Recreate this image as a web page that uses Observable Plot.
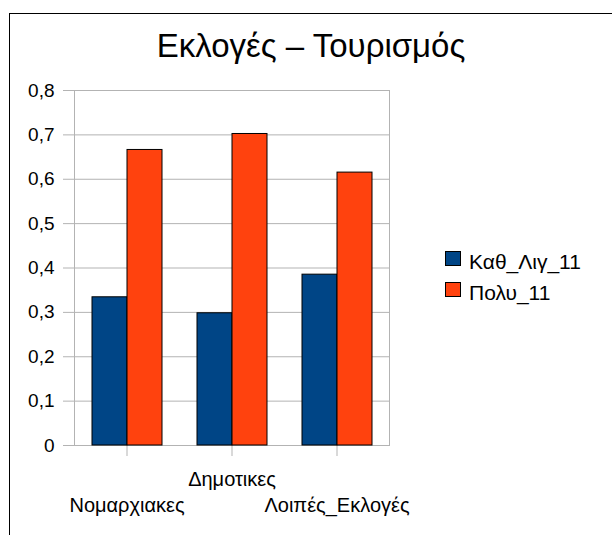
<!DOCTYPE html>
<html>
<head>
<meta charset="utf-8">
<script src="https://cdn.jsdelivr.net/npm/d3@7"></script>
<script src="https://cdn.jsdelivr.net/npm/@observablehq/plot@0.6"></script>
<style>
  html, body { margin: 0; padding: 0; background: #fff; }
  #wrap { position: relative; width: 612px; height: 535px; overflow: hidden; font-family: "Liberation Sans", Arial, sans-serif; }
  #frame { position: absolute; left: 9px; top: 13px; width: 700px; height: 700px; border: 1px solid #000; box-sizing: border-box; }
  #title { position: absolute; left: 0; top: 24px; width: 622px; text-align: center; font-size: 33px; line-height: 44px; color: #000; }
  #chart { position: absolute; left: 0; top: 0; }
  #legend { position: absolute; left: 445px; top: 250px; font-size: 21px; color: #000; }
  .row { display: flex; align-items: flex-start; height: 31px; }
  .sw { width: 16px; height: 15px; box-sizing: border-box; border: 1px solid #000; margin-right: 8px; margin-top: 1px; }
  .lt { line-height: 21px; padding-top: 1px; white-space: nowrap; }
</style>
</head>
<body>
<div id="wrap">
  <div id="frame"></div>
  <div id="chart"></div>
  <div id="title">Εκλογές – Τουρισμός</div>
  <div id="legend"></div>
</div>
<script>
const categories = ["Νομαρχιακες", "Δημοτικες", "Λοιπές_Εκλογές"];
const seriesNames = ["Καθ_Λιγ_11", "Πολυ_11"];
const seriesColors = ["#004586", "#ff420e"];
const kathLig11 = [0.334, 0.298, 0.385];
const poly11 = [0.666, 0.702, 0.615];
const yTicks = [0, 0.1, 0.2, 0.3, 0.4, 0.5, 0.6, 0.7, 0.8];
const upperRowLabels = [categories[1]];

const data = [];
categories.forEach((c, i) => {
  data.push({cat: c, series: seriesNames[0], value: kathLig11[i]});
  data.push({cat: c, series: seriesNames[1], value: poly11[i]});
});

const fmt = d => d === 0 ? "0" : d.toFixed(1).replace(".", ",");
const gray = "#b3b3b3";

const chart = Plot.plot({
  width: 612,
  height: 535,
  marginLeft: 73,
  marginRight: 223,
  marginTop: 90,
  marginBottom: 90,
  style: {fontFamily: "'Liberation Sans', Arial, sans-serif", background: "transparent", overflow: "visible"},
  fx: {domain: categories, padding: 0, label: null},
  x: {domain: seriesNames, paddingInner: 0, paddingOuter: 0.5, axis: null},
  y: {domain: [0, 0.8], ticks: yTicks, label: null},
  color: {domain: seriesNames, range: seriesColors},
  marks: [
    Plot.gridY(yTicks, {stroke: gray, strokeOpacity: 1, strokeWidth: 1}),
    Plot.frame({anchor: "left", facetAnchor: "left", stroke: gray, strokeWidth: 1}),
    Plot.frame({anchor: "right", facetAnchor: "right", stroke: gray, strokeWidth: 1}),
    Plot.axisY(yTicks, {tickSize: 11, tickPadding: 9, stroke: gray, strokeWidth: 1, tickFormat: fmt, fontSize: 19, fill: "#000", label: null}),
    Plot.axisFx({anchor: "bottom", tickSize: 11, stroke: gray, strokeWidth: 1, tickFormat: () => "", label: null}),
    Plot.axisFx({anchor: "bottom", tickSize: 0, tickPadding: 26, fontSize: 20, fill: "#000", label: null,
      tickFormat: d => upperRowLabels.includes(d) ? d : ""}),
    Plot.axisFx({anchor: "bottom", tickSize: 0, tickPadding: 52, fontSize: 20, fill: "#000", label: null,
      tickFormat: d => upperRowLabels.includes(d) ? "" : d}),
    Plot.barY(data, {fx: "cat", x: "series", y: "value", fill: "series", stroke: "#000", strokeWidth: 1})
  ]
});
document.getElementById("chart").appendChild(chart);

const legend = document.getElementById("legend");
seriesNames.forEach((s, i) => {
  const row = document.createElement("div");
  row.className = "row";
  const sw = document.createElement("div");
  sw.className = "sw";
  sw.style.background = seriesColors[i];
  const t = document.createElement("span");
  t.className = "lt";
  t.textContent = s;
  row.appendChild(sw);
  row.appendChild(t);
  legend.appendChild(row);
});
</script>
</body>
</html>
